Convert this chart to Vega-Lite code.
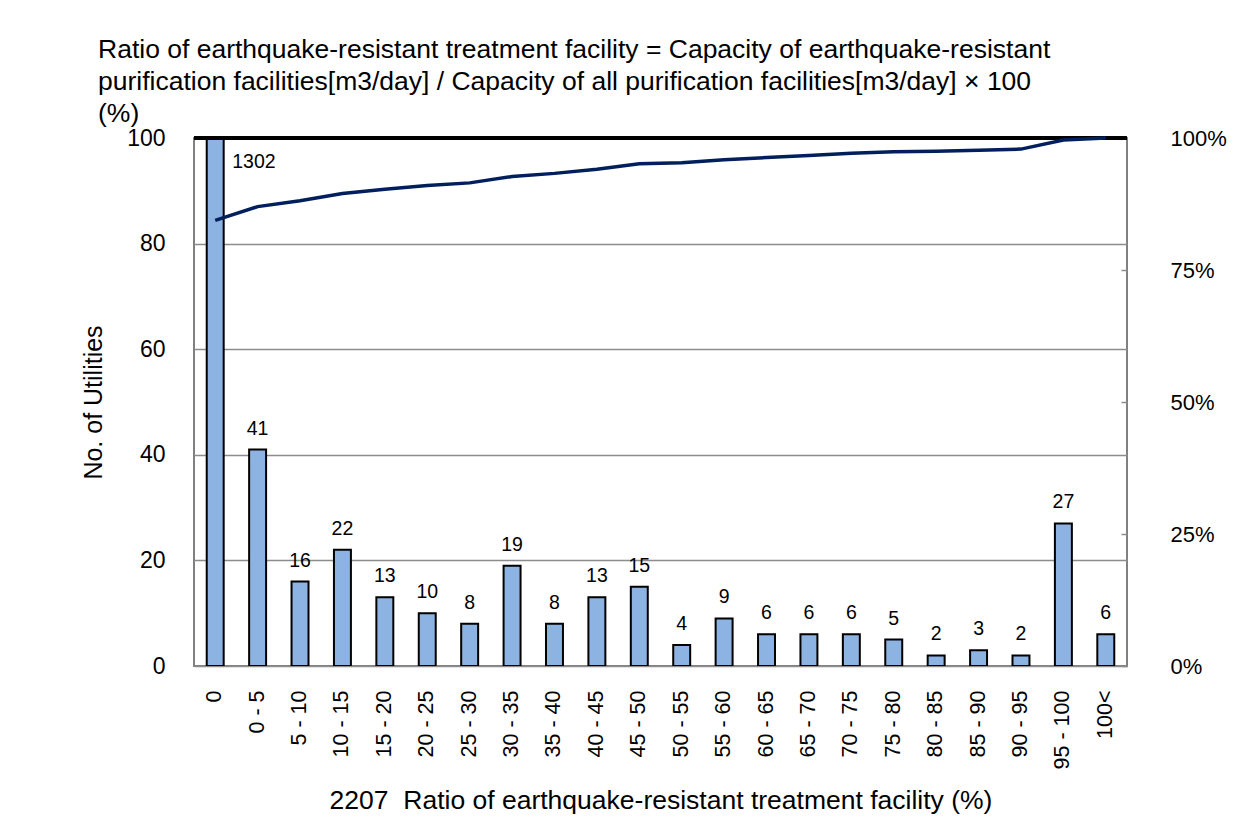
{
  "$schema": "https://vega.github.io/schema/vega-lite/v6.json",
  "width": 933,
  "height": 528,
  "autosize": "none",
  "padding": {"left": 194, "top": 138, "right": 130, "bottom": 168},
  "background": "white",
  "config": {
    "font": "Liberation Sans",
    "view": {"stroke": "#808080", "strokeWidth": 2},
    "axis": {"labelFont": "Liberation Sans", "titleFont": "Liberation Sans", "labelColor": "black", "titleColor": "black", "titleFontWeight": "normal"}
  },
  "title": {
    "text": ["Ratio of earthquake-resistant treatment facility = Capacity of earthquake-resistant", "purification facilities[m3/day] / Capacity of all purification facilities[m3/day] × 100", "(%)"],
    "anchor": "start",
    "frame": "group",
    "dx": -96,
    "offset": 0,
    "font": "Liberation Sans",
    "fontSize": 26.5,
    "fontWeight": "normal",
    "lineHeight": 32,
    "color": "black"
  },
  "data": {
    "values": [
      {"cat": "0", "count": 1302, "cum": 0.844},
      {"cat": "0 - 5", "count": 41, "cum": 0.870},
      {"cat": "5 - 10", "count": 16, "cum": 0.881},
      {"cat": "10 - 15", "count": 22, "cum": 0.895},
      {"cat": "15 - 20", "count": 13, "cum": 0.903},
      {"cat": "20 - 25", "count": 10, "cum": 0.910},
      {"cat": "25 - 30", "count": 8, "cum": 0.915},
      {"cat": "30 - 35", "count": 19, "cum": 0.927},
      {"cat": "35 - 40", "count": 8, "cum": 0.933},
      {"cat": "40 - 45", "count": 13, "cum": 0.941},
      {"cat": "45 - 50", "count": 15, "cum": 0.951},
      {"cat": "50 - 55", "count": 4, "cum": 0.953},
      {"cat": "55 - 60", "count": 9, "cum": 0.959},
      {"cat": "60 - 65", "count": 6, "cum": 0.963},
      {"cat": "65 - 70", "count": 6, "cum": 0.967},
      {"cat": "70 - 75", "count": 6, "cum": 0.971},
      {"cat": "75 - 80", "count": 5, "cum": 0.974},
      {"cat": "80 - 85", "count": 2, "cum": 0.975},
      {"cat": "85 - 90", "count": 3, "cum": 0.977},
      {"cat": "90 - 95", "count": 2, "cum": 0.979},
      {"cat": "95 - 100", "count": 27, "cum": 0.996},
      {"cat": "100<", "count": 6, "cum": 1.0}
    ]
  },
  "encoding": {
    "x": {
      "field": "cat",
      "type": "nominal",
      "sort": null,
      "scale": {"paddingInner": 0.6, "paddingOuter": 0.3},
      "axis": {
        "title": "2207\u00a0\u00a0Ratio of earthquake-resistant treatment facility (%)",
        "titleFontSize": 26.5,
        "titlePadding": 19,
        "labelFontSize": 21.5,
        "labelAngle": -90,
        "labelPadding": 24,
        "ticks": false,
        "tickSize": 0,
        "domain": false
      }
    }
  },
  "layer": [
    {
      "layer": [
        {
          "mark": {"type": "bar", "clip": true, "fill": "#8DB3E2", "stroke": "black", "strokeWidth": 2},
          "encoding": {
            "y": {
              "field": "count",
              "type": "quantitative",
              "scale": {"domain": [0, 100]},
              "axis": {
                "title": "No. of Utilities",
                "titleFontSize": 25,
                "titlePadding": 20,
                "labelFontSize": 23,
                "labelPadding": 29,
                "ticks": false,
                "tickSize": 0,
                "values": [0, 20, 40, 60, 80, 100],
                "grid": true,
                "gridColor": "#8c8c8c",
                "gridWidth": 1.5,
                "domain": false
              }
            }
          }
        },
        {
          "mark": {"type": "rule", "color": "black", "strokeWidth": 2.5},
          "encoding": {"y": {"datum": 100, "type": "quantitative", "scale": {"domain": [0, 100]}}, "x": null}
        },
        {
          "transform": [{"filter": "datum.cat !== '0'"}],
          "mark": {"type": "text", "fontSize": 19.5, "baseline": "bottom", "dy": -11, "color": "black"},
          "encoding": {
            "y": {"field": "count", "type": "quantitative", "scale": {"domain": [0, 100]}},
            "text": {"field": "count", "type": "quantitative"}
          }
        },
        {
          "transform": [{"filter": "datum.cat === '0'"}],
          "mark": {"type": "text", "fontSize": 19.5, "baseline": "middle", "align": "left", "dx": 17, "dy": 24, "color": "black"},
          "encoding": {
            "y": {"datum": 100, "type": "quantitative", "scale": {"domain": [0, 100]}},
            "text": {"field": "count", "type": "quantitative"}
          }
        }
      ]
    },
    {
      "mark": {"type": "line", "color": "#001f5c", "strokeWidth": 3.5},
      "encoding": {
        "y": {
          "field": "cum",
          "type": "quantitative",
          "scale": {"domain": [0, 1]},
          "axis": {
            "orient": "right",
            "title": null,
            "format": ".0%",
            "values": [0, 0.25, 0.5, 0.75, 1],
            "labelFontSize": 22,
            "labelPadding": 49,
            "ticks": true,
            "tickSize": -6,
            "tickColor": "#8c8c8c",
            "tickWidth": 1.5,
            "grid": false,
            "domain": false
          }
        }
      }
    }
  ],
  "resolve": {"scale": {"y": "independent"}}
}
